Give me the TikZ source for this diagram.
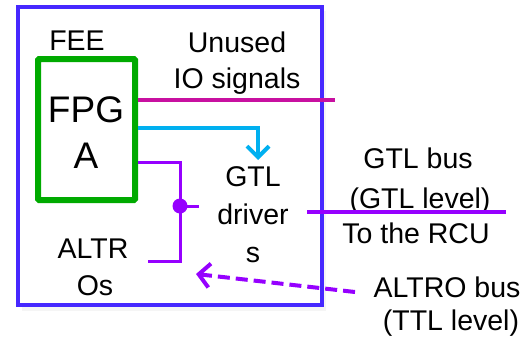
\documentclass[tikz,border=0pt]{standalone}
\usepackage{fontspec}
\setmainfont{Liberation Sans}
\usetikzlibrary{arrows.meta}
\definecolor{boxblue}{RGB}{70,40,255}
\definecolor{fgreen}{RGB}{0,170,0}
\definecolor{magline}{RGB}{200,16,160}
\definecolor{cyanline}{RGB}{0,176,240}
\definecolor{purpline}{RGB}{150,0,255}
\tikzset{
  lbl/.style={anchor=base, inner sep=0pt, font=\fontsize{28.5}{34}\selectfont},
  biglbl/.style={anchor=base, inner sep=0pt, font=\fontsize{37}{44}\selectfont},
  outerbox/.style={draw=boxblue, line width=3.5pt, minimum width=304pt, minimum height=298pt, inner sep=0pt},
  fpgabox/.style={draw=fgreen, line width=6pt, minimum width=97pt, minimum height=141pt, inner sep=0pt, rounded corners=1pt},
  magwire/.style={draw=magline, line width=4pt},
  cyanwire/.style={draw=cyanline, line width=4pt, -{Straight Barb[length=11pt,width=22pt,line width=4pt]}},
  purpwire/.style={draw=purpline, line width=3pt},
  dashwire/.style={draw=purpline, line width=4pt, dash pattern=on 12pt off 6pt, -{Straight Barb[length=11pt,width=24pt,line width=4pt]}},
}
\begin{document}
\begin{tikzpicture}[x=1pt,y=-1pt]
\useasboundingbox (0,0) rectangle (529,340);
% faint shadow
\fill[gray!8] (22,304) rectangle (326,311);
\fill[gray!8] (321,11) rectangle (326,311);
\node[outerbox, fill=white] (outer) at (170,156) {};
\node[fpgabox] (fpga) at (86.5,129.5) {};

% texts
\node[lbl] (fee) at (77,50) {FEE};
\node[lbl] (unused) at (237,52) {Unused};
\node[lbl] (iosig) at (237,88) {IO signals};
\node[biglbl] (fpg) at (86,122) {FPG};
\node[biglbl] (fpgA) at (86,168) {A};
\node[lbl] (gtl) at (253,186) {GTL};
\node[lbl] (driver) at (253,224) {driver};
\node[lbl] (drs) at (253,262) {s};
\node[lbl] (altr) at (93,258) {ALTR};
\node[lbl] (altros) at (95,295) {Os};
\node[lbl] (gtlbus) at (418,168) {GTL bus};
\node[lbl] (gtllev) at (420,208) {(GTL level)};
\node[lbl] (torcu) at (416,243) {To the RCU};
\node[lbl] (altrobus) at (447,297) {ALTRO bus};
\node[lbl] (ttllev) at (451,330) {(TTL level)};

% connector end points
\coordinate (magend) at (335,100);
\coordinate (cyancorner) at (258,128);
\coordinate (cyantip) at (258,160);
\coordinate (pA) at (180,162);
\coordinate (pB) at (180,261);
\coordinate (pEnd) at (148,261);
\coordinate (pdot) at (180,206);
\coordinate (pstub) at (199,206);
\coordinate (busL) at (307,212);
\coordinate (busR) at (506,212);
\coordinate (dashS) at (355,292);
\coordinate (dashT) at (196,274);

\draw[magwire] (fpga.east |- magend) -- (magend);
\draw[cyanwire] (fpga.east |- cyancorner) -- (cyancorner) -- (cyantip);
\draw[purpwire] (fpga.east |- pA) -- (pA) -- (pB) -- (pEnd);
\draw[purpwire] (pdot) -- (pstub);
\fill[purpline] (pdot) circle (7.5pt);
\draw[purpwire, line width=4pt] (busL) -- (busR);
\draw[dashwire] (dashS) -- (dashT);
\end{tikzpicture}
\end{document}
